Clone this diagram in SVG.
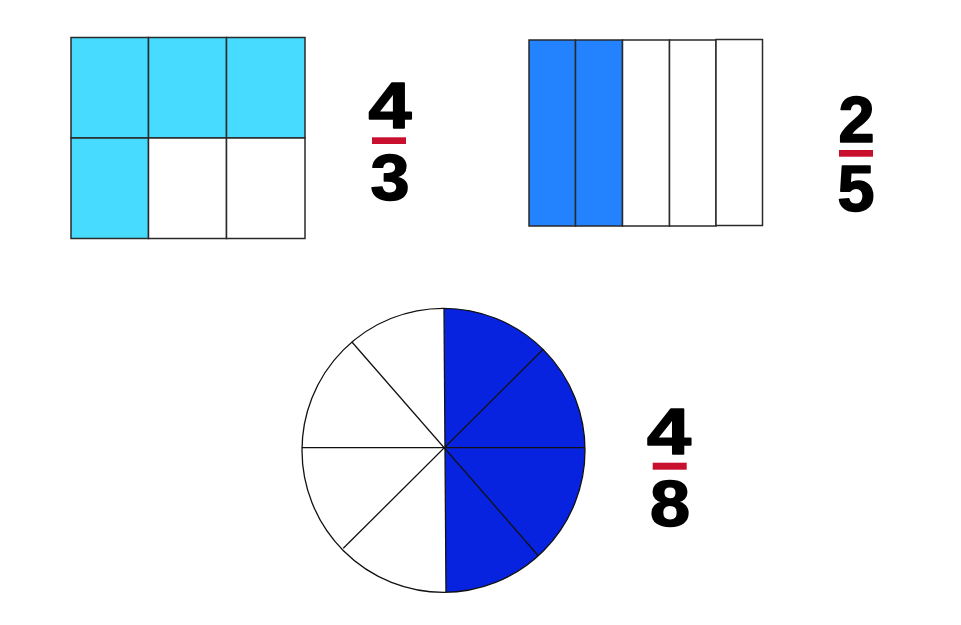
<svg xmlns="http://www.w3.org/2000/svg" width="961" height="625" viewBox="0 0 961 625">
  <style>
    .cell { stroke: #2a2a2a; stroke-width: 1.5; }
    .cyan { fill: #46DBFF; }
    .blue { fill: #2383FF; }
    .white { fill: #ffffff; }
    .spoke { stroke: #111; stroke-width: 1.3; fill: none; }
    .num { font-family: "Liberation Sans", Arial, sans-serif; font-weight: 700; font-size: 64px; fill: #000; stroke: #000; stroke-width: 1.6; stroke-linejoin: round; text-anchor: middle; }
    .bar { fill: #C8102E; }
  </style>
  <defs>
    <clipPath id="circClip">
      <ellipse cx="443.5" cy="450.3" rx="141.5" ry="142"/>
    </clipPath>
  </defs>
  <rect width="961" height="625" fill="#ffffff"/>

  <g id="grid-4-3">
    <rect class="cell cyan" x="71" y="37.5" width="77.5" height="100.5"/>
    <rect class="cell cyan" x="148.5" y="37.5" width="78" height="100.5"/>
    <rect class="cell cyan" x="226.5" y="37.5" width="78.5" height="100.5"/>
    <rect class="cell cyan" x="71" y="138" width="77.5" height="100.5"/>
    <rect class="cell white" x="148.5" y="138" width="78" height="100.5"/>
    <rect class="cell white" x="226.5" y="138" width="78.5" height="100.5"/>
  </g>

  <g id="fraction-4-3">
    <text class="num" x="390" y="127.5" textLength="43" lengthAdjust="spacingAndGlyphs">4</text>
    <rect class="bar" x="372" y="137.3" width="34" height="6.7"/>
    <text class="num" x="390" y="200" textLength="39" lengthAdjust="spacingAndGlyphs">3</text>
  </g>

  <g id="bars-2-5">
    <rect class="cell blue" x="529" y="40" width="46.5" height="186"/>
    <rect class="cell blue" x="575.5" y="40" width="47" height="186"/>
    <rect class="cell white" x="622.5" y="40" width="47" height="186"/>
    <rect class="cell white" x="669.5" y="40" width="46.5" height="186"/>
    <rect class="cell white" x="716" y="39.5" width="46.5" height="186"/>
  </g>

  <g id="fraction-2-5">
    <text class="num" x="856.5" y="142" textLength="36" lengthAdjust="spacingAndGlyphs">2</text>
    <rect class="bar" x="839" y="150" width="34" height="6.7"/>
    <text class="num" x="856" y="211" textLength="37" lengthAdjust="spacingAndGlyphs">5</text>
  </g>

  <g id="circle-4-8">
    <ellipse cx="443.5" cy="450.3" rx="141.5" ry="142" fill="#ffffff"/>
    <polygon points="444,300 600,300 600,600 446,600" fill="#0723E0" clip-path="url(#circClip)"/>
    <g class="spokes">
      <line class="spoke" x1="444" y1="308.5" x2="446" y2="592.3" stroke="#555" stroke-width="1.8"/>
      <line class="spoke" x1="301.8" y1="447.7" x2="584.5" y2="447.7"/>
      <line class="spoke" x1="351.7" y1="341.7" x2="538.3" y2="555.7"/>
      <line class="spoke" x1="543.3" y1="349.3" x2="343.3" y2="548.3"/>
    </g>
    <ellipse cx="443.5" cy="450.3" rx="141.5" ry="142" fill="none" stroke="#111" stroke-width="1.3"/>
  </g>

  <g id="fraction-4-8">
    <text class="num" x="669" y="453.5" textLength="44" lengthAdjust="spacingAndGlyphs">4</text>
    <rect class="bar" x="652.7" y="462.7" width="34" height="7"/>
    <text class="num" x="670" y="525.5" textLength="40" lengthAdjust="spacingAndGlyphs">8</text>
  </g>
</svg>
